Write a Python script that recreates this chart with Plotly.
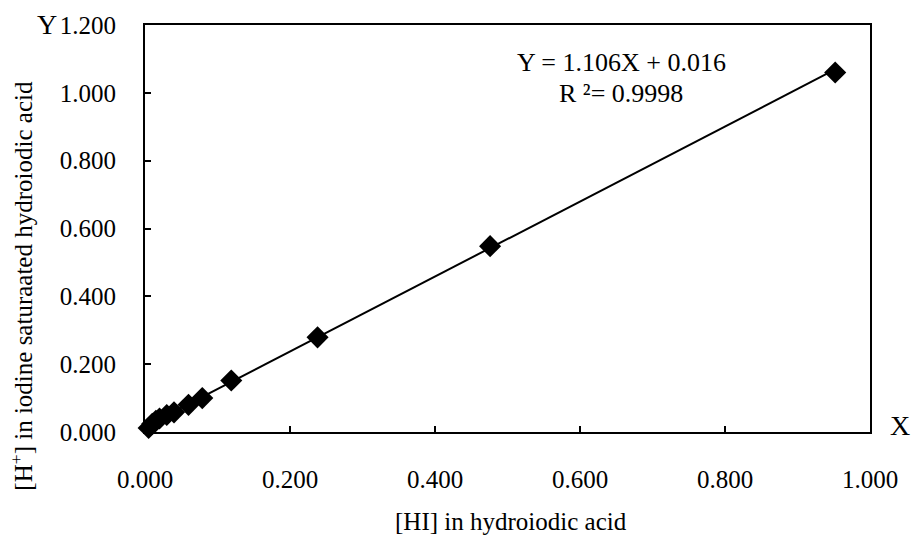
import plotly.graph_objects as go

hi_conc = [0.005, 0.010, 0.015, 0.020, 0.030, 0.040, 0.060, 0.079, 0.119, 0.238, 0.476, 0.952]
h_conc = [0.012, 0.024, 0.033, 0.040, 0.050, 0.058, 0.080, 0.100, 0.152, 0.279, 0.548, 1.060]
slope = 1.106
intercept = 0.016
x_ticks = [0.0, 0.2, 0.4, 0.6, 0.8, 1.0]
y_ticks = [0.0, 0.2, 0.4, 0.6, 0.8, 1.0, 1.2]

FONT = "Liberation Serif"

xl = [min(hi_conc), max(hi_conc)]
yl = [slope * v + intercept for v in xl]

fig = go.Figure()
fig.add_trace(go.Scatter(x=xl, y=yl, mode="lines", line=dict(color="black", width=2), showlegend=False))
fig.add_trace(go.Scatter(x=hi_conc, y=h_conc, mode="markers", cliponaxis=False,
                         marker=dict(symbol="diamond", size=17, color="black"), showlegend=False))

axis_common = dict(showgrid=False, zeroline=False, showline=True, linecolor="black", linewidth=2,
                   mirror=True, ticks="inside", ticklen=6, tickcolor="black", tickwidth=2,
                   tickformat=".3f", tickfont=dict(family=FONT, size=25, color="black"))
fig.update_xaxes(range=[0, 1.0], tickvals=x_ticks, ticklabelstandoff=24, **axis_common)
fig.update_yaxes(range=[0, 1.2], tickvals=y_ticks, ticklabelstandoff=22, **axis_common)

fig.update_layout(
    width=914, height=540,
    margin=dict(l=145, r=44, t=23, b=108),
    plot_bgcolor="white", paper_bgcolor="white",
    font=dict(family=FONT, color="black"),
    annotations=[
        dict(text="Y", xref="paper", yref="paper", x=-0.135, y=1.002, xanchor="center", yanchor="middle",
             showarrow=False, font=dict(family=FONT, size=28)),
        dict(text="X", xref="paper", yref="paper", x=1.041, y=0.017, xanchor="center", yanchor="middle",
             showarrow=False, font=dict(family=FONT, size=28)),
        dict(text="Y = 1.106X + 0.016", xref="paper", yref="paper", x=0.657, y=0.908,
             xanchor="center", yanchor="middle", showarrow=False, font=dict(family=FONT, size=26)),
        dict(text="R ²= 0.9998", xref="paper", yref="paper", x=0.657, y=0.832,
             xanchor="center", yanchor="middle", showarrow=False, font=dict(family=FONT, size=26)),
        dict(text="[HI] in hydroiodic acid", xref="paper", yref="paper", x=0.505, y=-0.22,
             xanchor="center", yanchor="middle", showarrow=False, font=dict(family=FONT, size=25)),
        dict(text="[H<sup>+</sup>] in iodine saturaated hydroiodic acid", xref="paper", yref="paper",
             x=-0.170, y=0.359, xanchor="center", yanchor="middle", textangle=-90,
             showarrow=False, font=dict(family=FONT, size=25)),
    ],
)

fig.write_html("out.html")
